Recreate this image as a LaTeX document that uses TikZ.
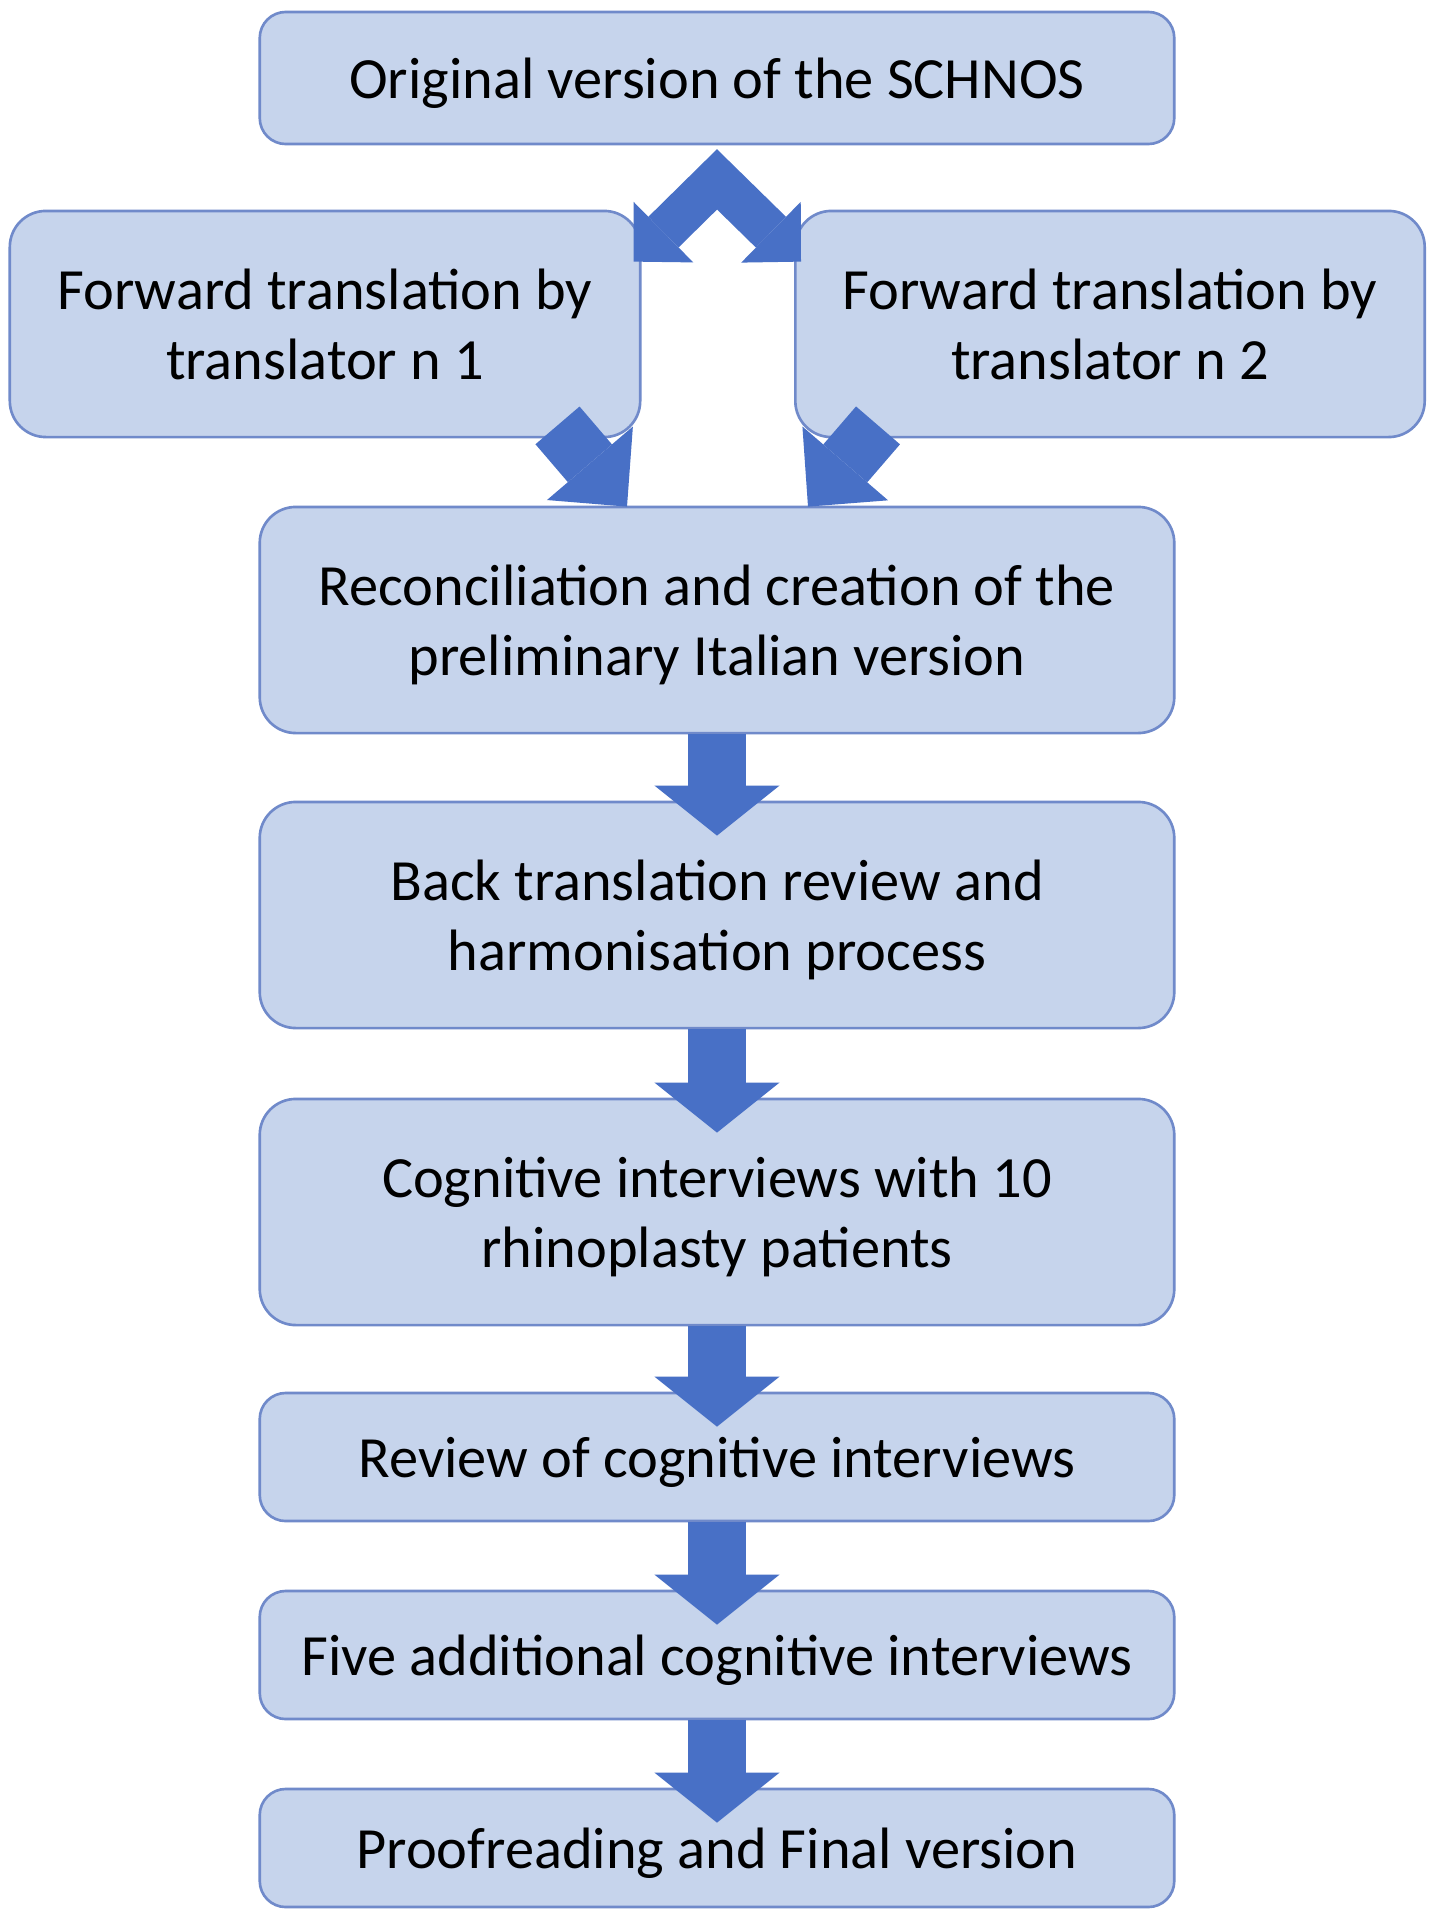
\documentclass[tikz,border=0pt]{standalone}
\usepackage{fontspec}
\setmainfont{Carlito}
\usetikzlibrary{calc,arrows.meta}
\definecolor{boxfill}{RGB}{198,212,236}
\definecolor{boxline}{RGB}{112,138,202}
\definecolor{arrowblue}{RGB}{72,112,198}

\begin{document}
\begin{tikzpicture}[x=0.01cm,y=-0.01cm,
  stage/.style={draw=boxline,line width=0.75pt,fill=boxfill,rounded corners=0.36cm,
    minimum width=9.14cm,minimum height=2.26cm,align=center,inner sep=0pt,text depth=0pt,
    font=\fontsize{16.6}{20}\selectfont},
  shortstage/.style={stage,rounded corners=0.26cm,minimum height=1.28cm},
  downarrow/.style={arrowblue,line width=0.58cm,
    -{Triangle[width=1.25cm,length=0.5cm,line width=0pt]}},
  diagarrow/.style={arrowblue,line width=0.58cm,
    -{Triangle[width=1.13cm,length=0.57cm,line width=0pt]}},
  bentarrow/.style={arrowblue,line width=0.43cm,line join=miter,
    {Triangle[width=0.85cm,length=0.42cm,line width=0pt]}-{Triangle[width=0.85cm,length=0.42cm,line width=0pt]}}]
\path[use as bounding box,fill=white] (0,0) rectangle (1431,1912);

\node[shortstage,minimum height=1.32cm] (orig) at (717,78) {Original version of the SCHNOS};
\node[stage,minimum width=6.30cm] (fwd1) at (325,324) {Forward translation by\\translator n 1};
\node[stage,minimum width=6.29cm] (fwd2) at (1110,324) {Forward translation by\\translator n 2};
\node[stage] (recon) at (717,620) {Reconciliation and creation of the\\preliminary Italian version};
\node[stage] (back) at (717,915) {Back translation review and\\harmonisation process};
\node[stage] (cogn) at (717,1212) {Cognitive interviews with 10\\rhinoplasty patients};
\node[shortstage] (review) at (717,1457) {Review of cognitive interviews};
\node[shortstage] (five) at (717,1655) {Five additional cognitive interviews};
\node[shortstage,minimum height=1.18cm] (proof) at (717,1848) {Proofreading and Final version};

\draw[bentarrow] ($(fwd1.north east)+(-8,52)$) -- ($(orig.south)+(0,34)$) -- ($(fwd2.north west)+(7,52)$);
\draw[diagarrow] ($(fwd1.south east)+(-84,-13)$) -- ($(recon.north)+(-90,1)$);
\draw[diagarrow] ($(fwd2.south west)+(84,-13)$) -- ($(recon.north)+(91,1)$);

\draw[downarrow] (recon.south) -- ($(back.north)+(0,35)$);
\draw[downarrow] (back.south) -- ($(cogn.north)+(0,35)$);
\draw[downarrow] (cogn.south) -- ($(review.north)+(0,35)$);
\draw[downarrow] (review.south) -- ($(five.north)+(0,35)$);
\draw[downarrow] (five.south) -- ($(proof.north)+(0,35)$);
\end{tikzpicture}
\end{document}
